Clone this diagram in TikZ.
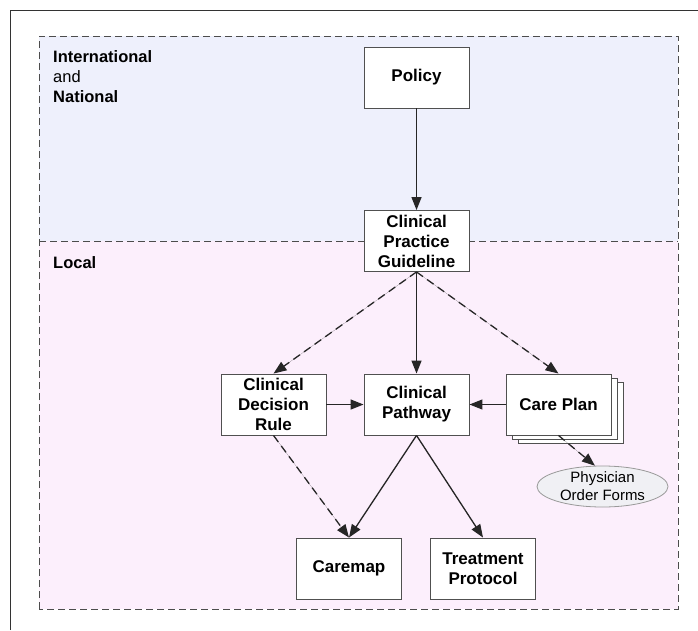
\documentclass[tikz,border=0pt]{standalone}
\usepackage{fontspec}
\setmainfont{Liberation Sans}
\usetikzlibrary{arrows.meta,shapes.geometric,shadows}

\definecolor{natfill}{RGB}{238,240,252}
\definecolor{locfill}{RGB}{252,239,252}
\definecolor{boxline}{RGB}{80,80,80}
\definecolor{ovalfill}{RGB}{240,240,244}

\tikzset{
	stage/.style={draw=boxline, fill=white, line width=0.9pt, minimum width=105pt, minimum height=61pt, align=center, inner sep=1pt, font=\fontsize{17}{20}\selectfont\bfseries},
	flow/.style={-{Triangle[length=13pt,width=10pt]}, line width=1.3pt, draw=black!85, fill=black!85},
	weak/.style={flow, dash pattern=on 8pt off 5pt},
	zone/.style={draw=black!70, line width=0.9pt, dash pattern=on 7pt off 4pt},
}

\begin{document}
\begin{tikzpicture}[x=1pt,y=1pt]
	\useasboundingbox (0,0) rectangle (698,630);
	\draw[line width=1pt, black!80] (10,0) -- (10,619) -- (698,619);
	\fill[natfill] (39,389) rectangle (678,594);
	\fill[locfill] (39,21) rectangle (678,389);
	\draw[zone] (39,21) rectangle (678,594);
	\draw[zone] (39,389) -- (678,389);
	\node[anchor=west, align=left, inner sep=0, font=\fontsize{16.5}{20}\selectfont] (natlbl) at (53,553) {\textbf{International}\\and\\\textbf{National}};
	\node[anchor=west, inner sep=0, font=\fontsize{16.5}{20}\selectfont\bfseries] (loclbl) at (53,367) {Local};
	\node[stage] (policy) at (416.5,552.5) {Policy};
	\node[stage] (cpg) at (416.5,389) {Clinical\\Practice\\Guideline};
	\node[stage] (cdr) at (273.5,225.5) {Clinical\\Decision\\Rule};
	\node[stage] (path) at (416.5,225.5) {Clinical\\Pathway};
	\node[stage, double copy shadow={shadow xshift=6pt, shadow yshift=-4pt}] (cplan) at (558.5,225.5) {Care Plan};
	\node[stage] (cmap) at (349,61.5) {Caremap};
	\node[stage] (treat) at (483,61.5) {Treatment\\Protocol};
	\node[ellipse, draw=black!40, fill=ovalfill, line width=0.8pt, minimum width=131pt, minimum height=41pt, inner xsep=0pt, inner ysep=-2pt, align=center, font=\fontsize{15}{18}\selectfont] (pof) at (602.5,143.5) {Physician\\Order Forms};
	\draw[flow] (policy) -- (cpg);
	\draw[flow] (cpg) -- (path);
	\draw[weak] (cpg.south) -- (cdr.north);
	\draw[weak] (cpg.south) -- (cplan.north);
	\draw[flow] (cdr) -- (path);
	\draw[flow] (cplan) -- (path);
	\draw[flow] (path.south) -- (cmap.north);
	\draw[flow] (path.south) -- (treat.north);
	\draw[weak] (cdr.south) -- (cmap.north);
	\draw[weak] (cplan.south) -- (pof.110);
\end{tikzpicture}
\end{document}
